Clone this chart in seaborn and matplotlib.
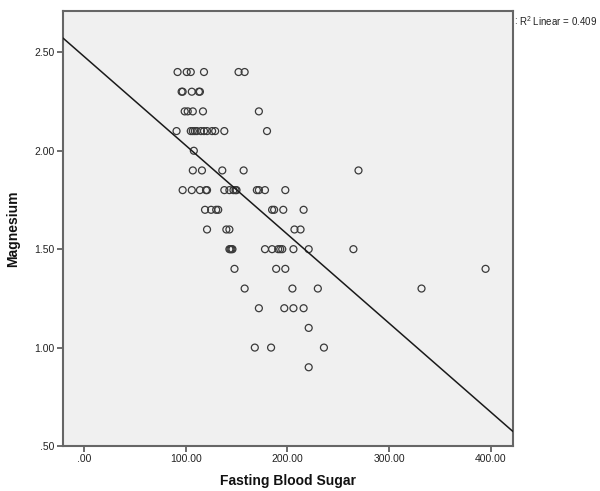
import matplotlib
matplotlib.use("Agg")
import matplotlib.pyplot as plt
import seaborn as sns
import pandas as pd

# Fasting blood sugar (x) and magnesium (y) values
fbs = [92, 101, 105, 118, 152, 158,
       96, 97, 106, 113, 114,
       99, 102, 107, 117, 172,
       91, 105, 107, 109, 111, 115, 118, 121, 126, 129, 138, 180,
       108,
       107, 116, 136, 157, 270,
       97, 106, 114, 120, 121, 138, 143, 147, 149, 150, 170, 172, 178, 198,
       119, 125, 130, 132, 185, 187, 196, 216,
       121, 140, 143, 207, 213,
       143, 144, 145, 146, 178, 185, 191, 193, 195, 206, 221, 265,
       148, 189, 198, 395,
       158, 205, 230, 332,
       172, 197, 206, 216,
       221,
       168, 184, 236,
       221]
magnesium = [2.4] * 6 + [2.3] * 5 + [2.2] * 5 + [2.1] * 12 + [2.0] * 1 + \
            [1.9] * 5 + [1.8] * 14 + [1.7] * 8 + [1.6] * 5 + [1.5] * 12 + \
            [1.4] * 4 + [1.3] * 4 + [1.2] * 4 + [1.1] * 1 + [1.0] * 3 + [0.9] * 1

x_ticks = [0, 100, 200, 300, 400]
x_ticklabels = [".00", "100.00", "200.00", "300.00", "400.00"]
y_ticks = [0.5, 1.0, 1.5, 2.0, 2.5]
y_ticklabels = [".50", "1.00", "1.50", "2.00", "2.50"]
r2_text = "R$^2$ Linear = 0.409"

df = pd.DataFrame({"Fasting Blood Sugar": fbs, "Magnesium": magnesium})

sns.set_style("white")
plt.rcParams["font.family"] = ["Liberation Sans", "DejaVu Sans"]
plt.rcParams["mathtext.fontset"] = "custom"
plt.rcParams["mathtext.rm"] = "Liberation Sans"

fig = plt.figure(figsize=(6.0, 4.91), dpi=100)
ax = fig.add_axes([63 / 600, 45 / 491, 450 / 600, 435 / 491])
ax.set_facecolor("#f0f0f0")

xlim = (-20.7, 422)
ylim = (0.5, 2.71)
ax.set_xlim(*xlim)
ax.set_ylim(*ylim)

sns.scatterplot(data=df, x="Fasting Blood Sugar", y="Magnesium", ax=ax,
                marker="o", s=25, facecolors="none", edgecolor="#3a3a3a",
                linewidth=0.9, zorder=3)
sns.regplot(data=df, x="Fasting Blood Sugar", y="Magnesium", ax=ax,
            scatter=False, ci=None, truncate=False,
            line_kws=dict(color="#1a1a1a", linewidth=1.1, zorder=4))

ax.set_xlim(*xlim)
ax.set_ylim(*ylim)

ax.set_xticks(x_ticks)
ax.set_xticklabels(x_ticklabels)
ax.set_yticks(y_ticks)
ax.set_yticklabels(y_ticklabels)
ax.tick_params(axis="both", direction="out", length=4, width=1.2,
               color="#555555", labelsize=7.5, labelcolor="#222222", pad=2,
               bottom=True, left=True)

for sp in ax.spines.values():
    sp.set_color("#666666")
    sp.set_linewidth(1.5)
    sp.set_visible(True)

ax.set_xlabel("Fasting Blood Sugar", fontsize=10, fontweight="bold",
              color="#111111", labelpad=7)
ax.set_ylabel("Magnesium", fontsize=10, fontweight="bold",
              color="#111111", labelpad=10)

fig.text(514 / 600, 1 - 21 / 491, ":", fontsize=7.2, color="#333333",
         va="center", ha="left")
fig.text(519 / 600, 1 - 21 / 491, r2_text, fontsize=7.0, color="#222222",
         va="center", ha="left")

fig.savefig("out.png", dpi=100, facecolor="white")
